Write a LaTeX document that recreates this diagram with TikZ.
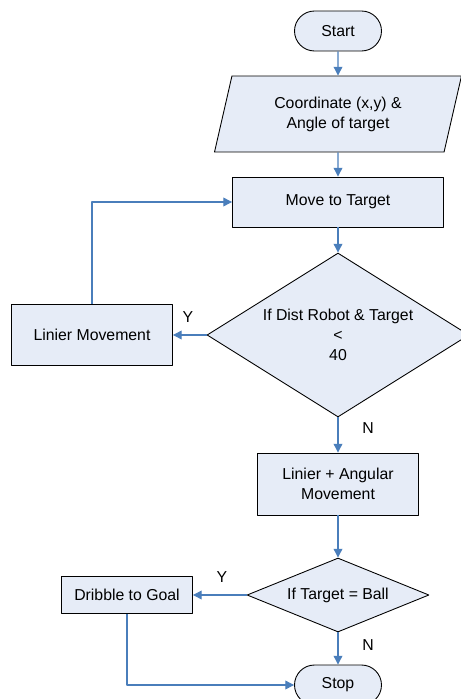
\documentclass[tikz,border=0pt]{standalone}
\usepackage{fontspec}
\setmainfont{Liberation Sans}
\usetikzlibrary{shapes.geometric,arrows.meta}
\definecolor{flowfill}{RGB}{230,236,247}
\definecolor{flowline}{RGB}{74,126,187}
\tikzset{
  box/.style={draw,fill=flowfill,align=center,inner sep=0pt,line width=0.5pt},
  term/.style={box,rounded corners=0.4cm,minimum width=1.74cm,minimum height=0.8cm},
  link/.style={flowline,line width=0.6pt,-{Triangle[length=5pt,width=5pt]}}
}
\begin{document}
\begin{tikzpicture}[x=0.02cm,y=-0.02cm,font=\fontsize{9}{11.4}\selectfont,line join=round]
\useasboundingbox (0,0) rectangle (460,699);
\node[term] (start) at (338,31) {Start};
\node[box,trapezium,trapezium left angle=63.4,trapezium right angle=116.6,trapezium stretches body,minimum width=4.94cm,minimum height=1.52cm] (input) at (338,114) {Coordinate (x,y) \&\\Angle of target};
\node[box,minimum width=4.22cm,minimum height=1cm] (move) at (338,202) {Move to Target};
\node[box,diamond,aspect=1.6,minimum width=5.24cm,minimum height=3.28cm] (dist) at (338,335) {If Dist Robot \& Target\\\textless\\40};
\node[box,minimum width=3.22cm,minimum height=1.22cm] (linier) at (92,335) {Linier Movement};
\node[box,minimum width=3.22cm,minimum height=1.24cm] (angular) at (338,484) {Linier + Angular\\Movement};
\node[box,diamond,aspect=2.46,minimum width=3.64cm,minimum height=1.48cm] (ball) at (338,595) {If Target = Ball};
\node[box,minimum width=2.62cm,minimum height=0.74cm] (dribble) at (127,595) {Dribble to Goal};
\node[term] (stop) at (338,685) {Stop};
% answers
\node (yes1) at (188,317) {Y};
\node (no1) at (368,428) {N};
\node (yes2) at (222,577) {Y};
\node (no2) at (368,645) {N};
% arrows
\draw[link] (start) -- (input);
\draw[link] (input) -- (move);
\draw[link] (move) -- (dist);
\draw[link] (dist) -- (linier);
\draw[link] (linier.north) |- (move.west);
\draw[link] (dist) -- (angular);
\draw[link] (angular) -- (ball);
\draw[link] (ball) -- (dribble);
\draw[link] (ball) -- (stop);
\draw[link] (dribble.south) |- (stop.west);
\end{tikzpicture}
\end{document}
